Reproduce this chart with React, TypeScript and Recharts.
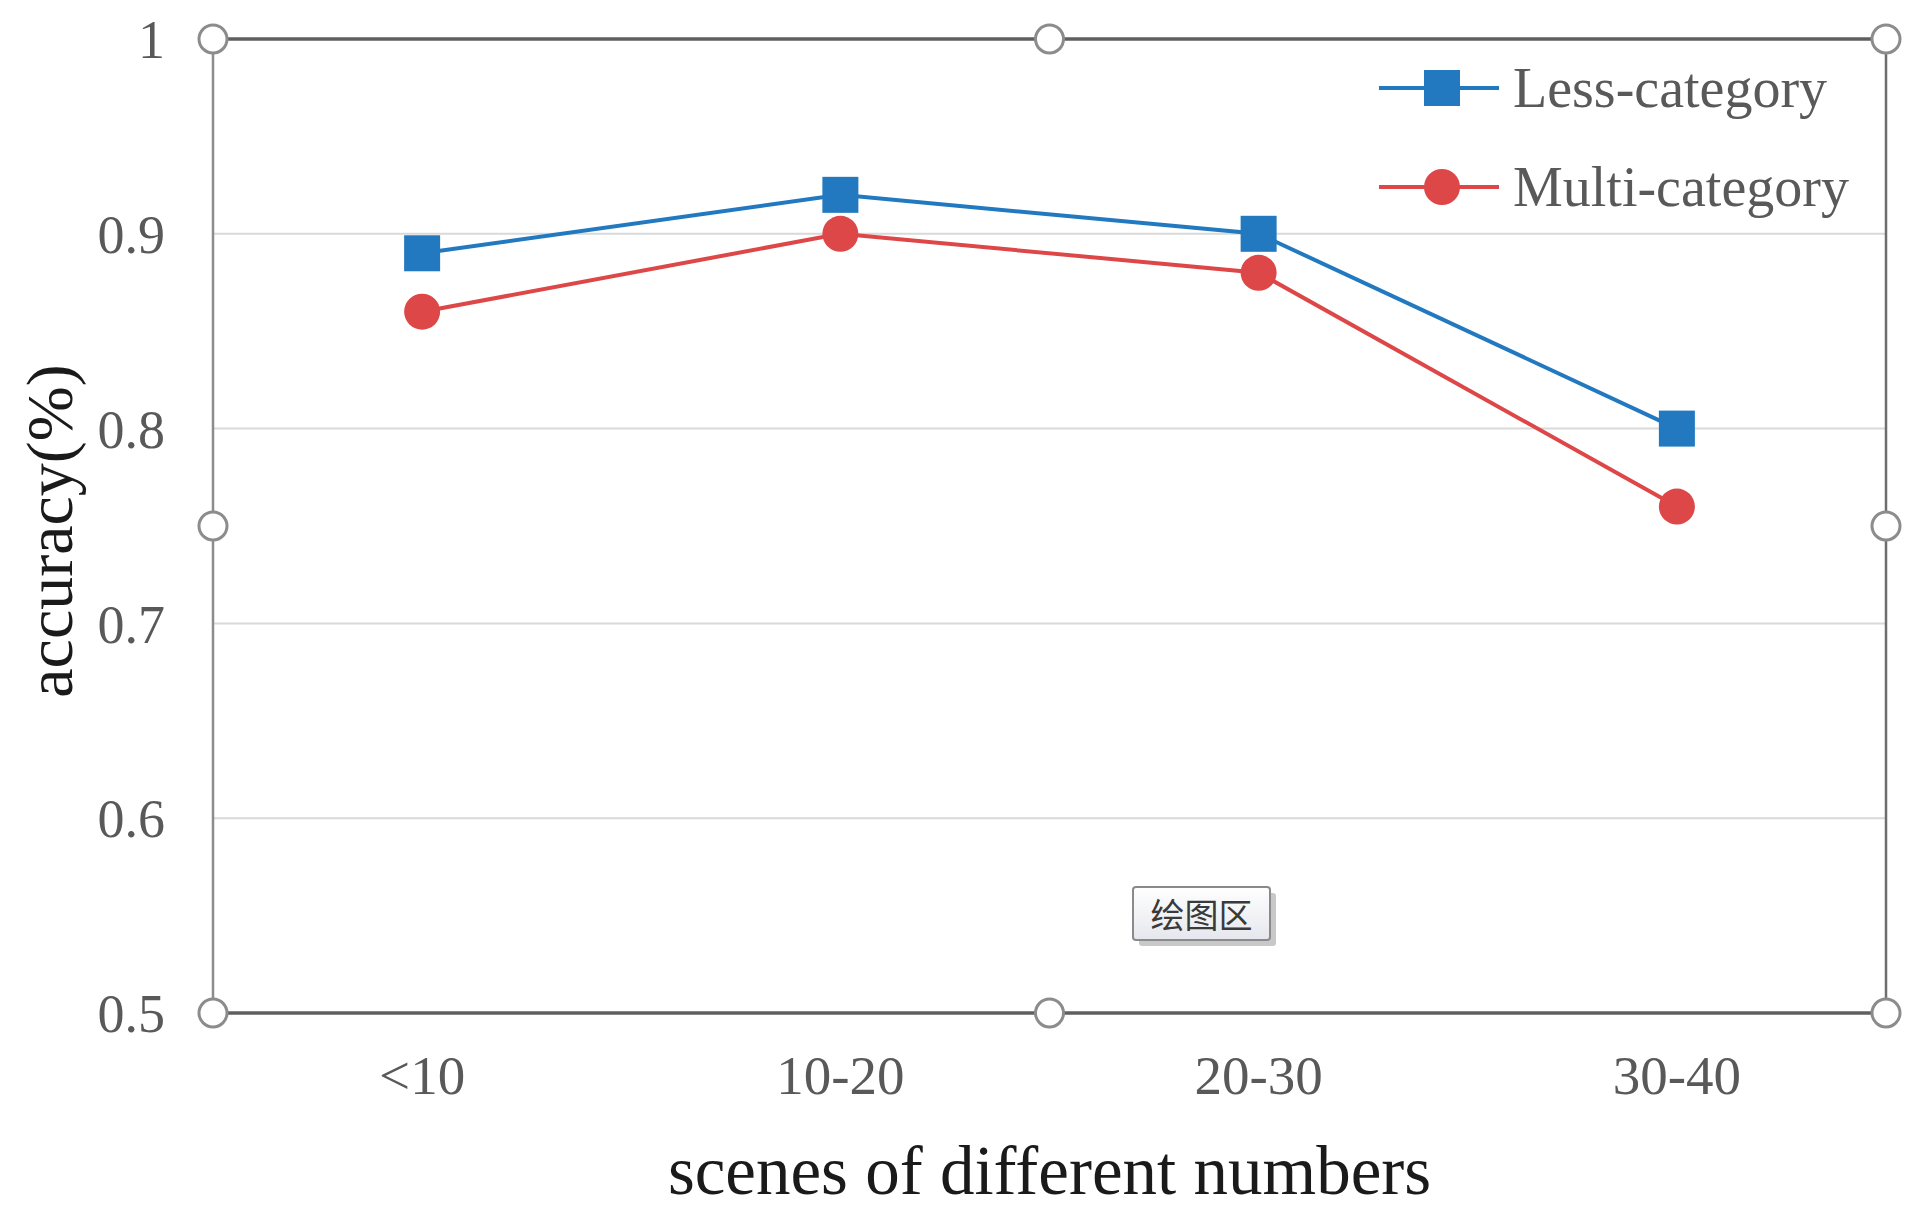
import React from 'react';
import { LineChart, Line, XAxis, YAxis, CartesianGrid, Customized } from 'recharts';

const categories = ['<10', '10-20', '20-30', '30-40'];
const lessCategory = [0.89, 0.92, 0.9, 0.8];
const multiCategory = [0.86, 0.9, 0.88, 0.76];
const yTicks = [0.5, 0.6, 0.7, 0.8, 0.9, 1];
const seriesNames = ['Less-category', 'Multi-category'];
const seriesColors = ['#2279C0', '#DD4747'];
const xTitle = 'scenes of different numbers';
const yTitle = 'accuracy(%)';
const tooltipLabel = '绘图区';

const data = categories.map((c, i) => ({ name: c, less: lessCategory[i], multi: multiCategory[i] }));

const W = 1914;
const H = 1214;
const PLOT_L = 213;
const PLOT_R = 1886;
const PLOT_T = 39;
const PLOT_B = 1013;
const YAXIS_W = 150;
const XAXIS_H = 120;
const PLOT_W = PLOT_R - PLOT_L;
const BAND = PLOT_W / categories.length;

const SERIF = '"Liberation Serif", "Times New Roman", serif';
const TICK_COLOR = '#595959';

const SquareDot = (props: any) => {
  const { cx, cy, index } = props;
  if (cx == null || cy == null) return null;
  return <rect key={'sq' + index} x={cx - 18} y={cy - 18} width={36} height={36} fill={seriesColors[0]} />;
};

const Overlay = () => {
  const midX = (PLOT_L + PLOT_R) / 2;
  const midY = (PLOT_T + PLOT_B) / 2;
  const handles = [
    [PLOT_L, PLOT_T], [midX, PLOT_T], [PLOT_R, PLOT_T],
    [PLOT_L, midY], [PLOT_R, midY],
    [PLOT_L, PLOT_B], [midX, PLOT_B], [PLOT_R, PLOT_B],
  ];
  const legX = 1379;
  const legY0 = 88;
  const legDY = 99;
  const boxX = 1133, boxY = 887, boxW = 137, boxH = 53;
  return (
    <g>
      <line x1={PLOT_L} y1={PLOT_T} x2={PLOT_L} y2={PLOT_B} stroke="#8c8c8c" strokeWidth={2.5} />
      <line x1={PLOT_R} y1={PLOT_T} x2={PLOT_R} y2={PLOT_B} stroke="#6e6e6e" strokeWidth={2.5} />
      <line x1={PLOT_L} y1={PLOT_T} x2={PLOT_R} y2={PLOT_T} stroke="#5f5f5f" strokeWidth={3.5} />
      <line x1={PLOT_L} y1={PLOT_B} x2={PLOT_R} y2={PLOT_B} stroke="#5f5f5f" strokeWidth={3.5} />
      {handles.map(([x, y], i) => (
        <circle key={'h' + i} cx={x} cy={y} r={14} fill="#ffffff" stroke="#8c8c8c" strokeWidth={3} />
      ))}
      {seriesNames.map((n, i) => {
        const y = legY0 + i * legDY;
        const c = seriesColors[i];
        return (
          <g key={'leg' + i}>
            <line x1={legX} y1={y} x2={legX + 120} y2={y} stroke={c} strokeWidth={4} />
            {i === 0 ? (
              <rect x={legX + 63 - 18} y={y - 18} width={36} height={36} fill={c} />
            ) : (
              <circle cx={legX + 63} cy={y} r={18} fill={c} />
            )}
            <text x={legX + 134} y={y} dominantBaseline="central" fontFamily={SERIF} fontSize={56} fill={TICK_COLOR}>
              {n}
            </text>
          </g>
        );
      })}
      <text x={midX} y={1194} textAnchor="middle" fontFamily={SERIF} fontSize={69} fill="#1a1a1a">
        {xTitle}
      </text>
      <text
        x={49}
        y={531}
        textAnchor="middle"
        dominantBaseline="central"
        transform={`rotate(-90 49 531)`}
        fontFamily={SERIF}
        fontSize={66}
        fill="#1a1a1a"
      >
        {yTitle}
      </text>
      <defs>
        <linearGradient id="tipGrad" x1="0" y1="0" x2="0" y2="1">
          <stop offset="0" stopColor="#ffffff" />
          <stop offset="1" stopColor="#e6e7ee" />
        </linearGradient>
      </defs>
      <rect x={boxX + 6} y={boxY + 6} width={boxW} height={boxH} rx={3} fill="#9a9a9a" opacity={0.55} />
      <rect x={boxX} y={boxY} width={boxW} height={boxH} rx={3} fill="url(#tipGrad)" stroke="#8a8a8a" strokeWidth={2} />
      <text
        x={boxX + boxW / 2}
        y={boxY + boxH / 2}
        textAnchor="middle"
        dominantBaseline="central"
        fontFamily='"Noto Sans CJK SC", sans-serif'
        fontSize={34}
        fill="#3a3a3a"
      >
        {tooltipLabel}
      </text>
    </g>
  );
};

export default function App() {
  return (
    <div style={{ position: 'absolute', left: 0, top: 0, width: W, height: H, background: '#ffffff' }}>
      <LineChart
        width={W}
        height={H}
        data={data}
        margin={{ top: PLOT_T, right: W - PLOT_R, left: PLOT_L - YAXIS_W, bottom: H - PLOT_B - XAXIS_H }}
      >
        <CartesianGrid horizontal={true} vertical={false} stroke="#d9d9d9" strokeWidth={2} />
        <XAxis
          dataKey="name"
          height={XAXIS_H}
          axisLine={false}
          tickLine={false}
          tickSize={0}
          tickMargin={42}
          padding={{ left: BAND / 2, right: BAND / 2 }}
          tick={{ fill: TICK_COLOR, fontSize: 55, fontFamily: SERIF }}
        />
        <YAxis
          width={YAXIS_W}
          domain={[0.5, 1]}
          ticks={yTicks}
          axisLine={false}
          tickLine={false}
          tickSize={0}
          tickMargin={48}
          interval={0}
          tick={{ fill: TICK_COLOR, fontSize: 54, fontFamily: SERIF }}
        />
        <Customized component={<Overlay />} />
        <Line
          type="linear"
          dataKey="less"
          name={seriesNames[0]}
          stroke={seriesColors[0]}
          strokeWidth={4}
          dot={SquareDot}
          activeDot={false}
          isAnimationActive={false}
        />
        <Line
          type="linear"
          dataKey="multi"
          name={seriesNames[1]}
          stroke={seriesColors[1]}
          strokeWidth={4}
          dot={{ r: 18, fill: seriesColors[1], stroke: seriesColors[1], strokeWidth: 0 }}
          activeDot={false}
          isAnimationActive={false}
        />
      </LineChart>
    </div>
  );
}
